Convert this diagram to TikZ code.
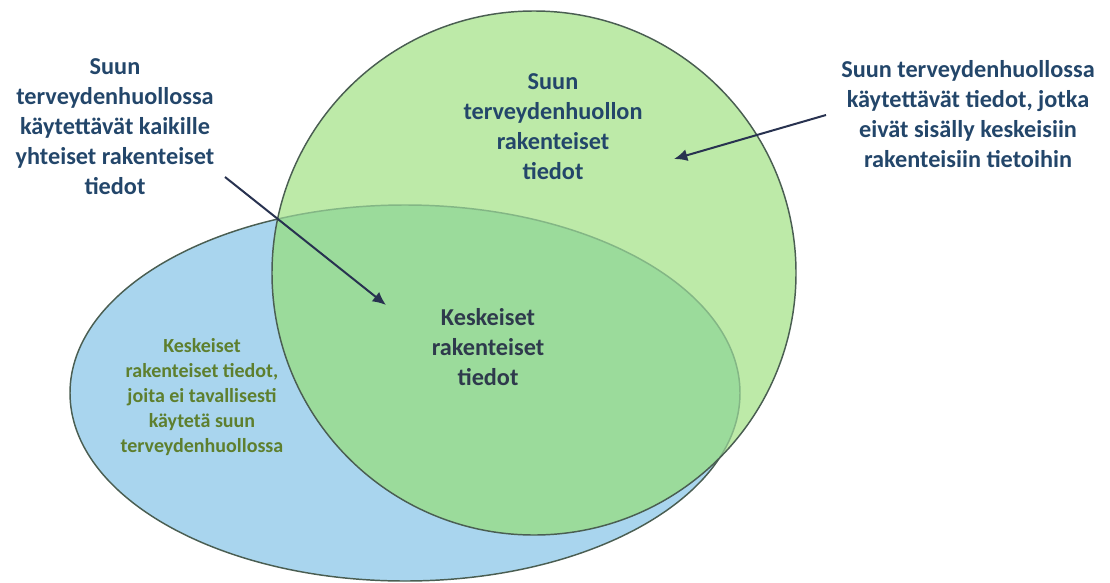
\documentclass[tikz,border=0pt]{standalone}
\usepackage{fontspec}
\setmainfont{Carlito}
\usetikzlibrary{arrows.meta}
\usepackage{xcolor}
\definecolor{cblue}{HTML}{A9D5EE}
\definecolor{cgreen}{HTML}{BDEAA8}
\definecolor{cboth}{HTML}{9BDB9B}
\definecolor{cline}{HTML}{4A5E52}
\definecolor{dnavy}{HTML}{283250}
\definecolor{dtext}{HTML}{23466A}
\definecolor{dcore}{HTML}{2E3A4C}
\definecolor{dolive}{HTML}{5E7F2E}
\tikzset{
	every picture/.style={font=\fontsize{18.2}{22.5}\selectfont\bfseries,},
	anno/.style={font=\fontsize{15}{18.7}\selectfont\bfseries,},
	lw/.style={line width=1.1pt,},
	%%%
	core/.style={fill=cblue},
	oral/.style={fill=cgreen},
	outline/.style={cline, lw},
	%%%
	label/.style={align=center, text=dtext, inner sep=0pt},
	pointer/.style={dnavy, line width=1.5pt, -{Latex[length=10pt,width=9pt]}},
}
\gdef\Ex{405}
\gdef\Ey{393}
\gdef\Erx{251.25pt}
\gdef\Ery{141pt}
\gdef\Cx{534}
\gdef\Cy{273}
\gdef\Cr{196.5pt}

\begin{document}
\begin{tikzpicture}[x=0.75pt, y=-0.75pt]

	\useasboundingbox (0,0) rectangle (1110,582);

	%%% Ellipse, circle, overlap

	\fill[core] (\Ex,\Ey) ellipse[x radius=\Erx, y radius=\Ery];
	\draw[outline] (\Ex,\Ey) ellipse[x radius=\Erx, y radius=\Ery];
	\fill[oral] (\Cx,\Cy) circle[radius=\Cr];

	\begin{scope}
		\clip (\Ex,\Ey) ellipse[x radius=\Erx, y radius=\Ery];
		\fill[cboth] (\Cx,\Cy) circle[radius=\Cr];
	\end{scope}

	\begin{scope}
		\clip (\Cx,\Cy) circle[radius=\Cr];
		\draw[cline!30!cboth, lw] (\Ex,\Ey) ellipse[x radius=\Erx, y radius=\Ery];
	\end{scope}

	\draw[outline] (\Cx,\Cy) circle[radius=\Cr];

	%%% Region texts

	\node[label] (oraltxt) at (553,127) {Suun\\terveydenhuollon\\rakenteiset\\tiedot};
	\node[label, text=dcore] (coretxt) at (488,347) {Keskeiset\\rakenteiset\\tiedot};
	\node[label, anno, text=dolive] (onlytxt) at (202,397) {Keskeiset\\rakenteiset tiedot,\\joita ei tavallisesti\\käytetä suun\\terveydenhuollossa};

	%%% Callouts

	\node[label] (commontxt) at (115,127) {Suun\\terveydenhuollossa\\käytettävät kaikille\\yhteiset rakenteiset\\tiedot};
	\node[label] (extratxt) at (968,114) {Suun terveydenhuollossa\\käytettävät tiedot, jotka\\eivät sisälly keskeisiin\\rakenteisiin tietoihin};

	\coordinate (commonA) at (225,177);
	\coordinate (commonB) at (386,305);
	\coordinate (extraA) at (826,115);
	\coordinate (extraB) at (674,159);

	\draw[pointer] (commonA) -- (commonB);
	\draw[pointer] (extraA) -- (extraB);

\end{tikzpicture}
\end{document}
